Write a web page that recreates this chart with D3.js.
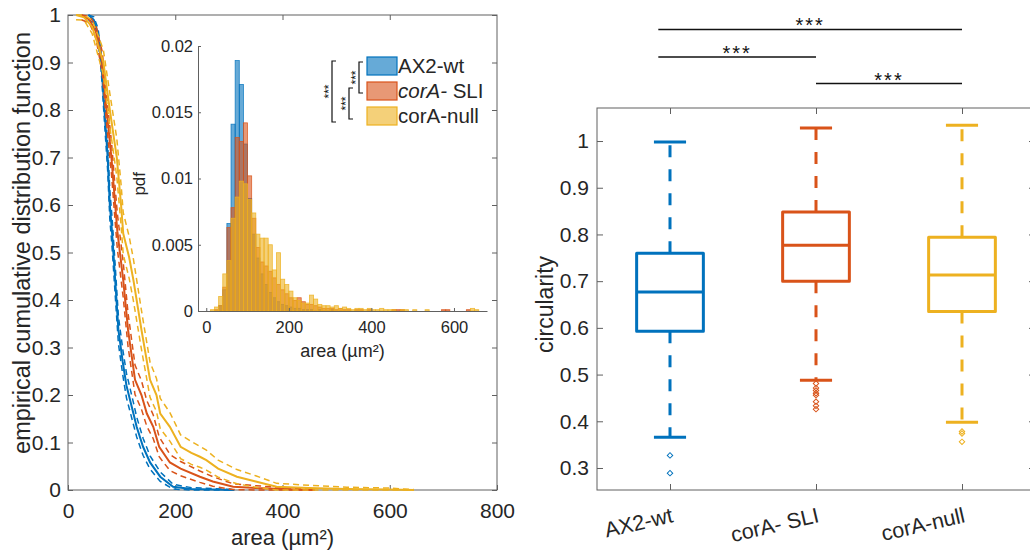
<!DOCTYPE html>
<html>
<head>
<meta charset="utf-8">
<script src="https://cdn.jsdelivr.net/npm/d3@7"></script>
<style>
  body { margin: 0; background: #fff; }
  svg { display: block; }
</style>
</head>
<body>
<svg id="fig" width="1030" height="551"></svg>
<script>
// groups + MATLAB default colours
const groups = ["AX2-wt", "corA- SLI", "corA-null"];
const colors = ["#0072BD", "#D95319", "#EDB120"];

// 1 - ECDF of cell area: area, curve, upper / lower bound
const wtArea = [38, 48, 56, 62, 68, 74, 78, 82, 88, 94, 102, 109, 122, 128, 140, 153, 172, 196, 230, 270, 310];
const wtMid  = [1, 0.99, 0.96, 0.9, 0.8, 0.7, 0.6, 0.545, 0.442, 0.337, 0.27, 0.22, 0.161, 0.133, 0.091, 0.058, 0.028, 0.007, 0.002, 0.001, 0];
const wtHi   = [1, 0.996, 0.972, 0.919, 0.825, 0.728, 0.63, 0.576, 0.473, 0.366, 0.297, 0.246, 0.184, 0.154, 0.109, 0.072, 0.038, 0.012, 0.005, 0.003, 0.001];
const wtLo   = [0.99, 0.984, 0.948, 0.881, 0.775, 0.672, 0.57, 0.514, 0.411, 0.308, 0.243, 0.194, 0.138, 0.112, 0.073, 0.044, 0.018, 0.002, 0, 0, 0];

const sliArea = [25, 40, 52, 64, 72, 81, 88, 92, 103, 112, 125, 137, 147, 159, 170, 190, 210, 246, 270, 308, 350, 400, 460];
const sliMid  = [1, 0.99, 0.965, 0.9, 0.8, 0.7, 0.6, 0.545, 0.442, 0.337, 0.232, 0.2, 0.161, 0.133, 0.091, 0.058, 0.045, 0.028, 0.018, 0.007, 0.004, 0.002, 0];
const sliHi   = [1, 0.997, 0.979, 0.922, 0.83, 0.734, 0.636, 0.582, 0.479, 0.372, 0.263, 0.23, 0.188, 0.158, 0.112, 0.075, 0.06, 0.04, 0.028, 0.013, 0.009, 0.005, 0.001];
const sliLo   = [0.99, 0.983, 0.951, 0.878, 0.77, 0.666, 0.564, 0.508, 0.405, 0.302, 0.201, 0.17, 0.134, 0.108, 0.07, 0.041, 0.03, 0.016, 0.008, 0.001, 0, 0, 0];

const nullArea = [15, 30, 45, 55, 66, 78, 91, 99, 103, 114, 122, 137, 153, 165, 172, 190, 210, 230, 246, 258, 280, 315, 350, 389, 450, 520, 600, 645];
const nullMid  = [1, 0.995, 0.975, 0.94, 0.9, 0.8, 0.7, 0.6, 0.54, 0.49, 0.442, 0.337, 0.232, 0.2, 0.161, 0.133, 0.091, 0.078, 0.07, 0.063, 0.045, 0.028, 0.018, 0.007, 0.004, 0.002, 0.001, 0];
const nullHi   = [1, 1, 0.989, 0.961, 0.926, 0.835, 0.74, 0.643, 0.584, 0.534, 0.486, 0.378, 0.269, 0.235, 0.193, 0.163, 0.116, 0.102, 0.092, 0.084, 0.063, 0.043, 0.03, 0.014, 0.01, 0.006, 0.004, 0.001];
const nullLo   = [0.99, 0.989, 0.961, 0.919, 0.874, 0.765, 0.66, 0.557, 0.496, 0.446, 0.398, 0.296, 0.195, 0.165, 0.129, 0.103, 0.066, 0.054, 0.048, 0.042, 0.027, 0.013, 0.006, 0, 0, 0, 0, 0];

// inset histogram, pdf per 10 µm² bin (bins start at 0, 10, ... 650)
const binWidth = 10;
const wtPdf = [
  0, 0, 0, .0004, .0016, .0066, .0141, .0189, .0171, .0126,
  .0085, .0058, .0040, .0028, .0020, .0014, .0010, .0007, .0005, .0004,
  .0003, .0002, .0002, .0001, .0001, .0001, 0, .0001, 0, 0,
  .0001, 0, 0, 0, 0, 0, 0, 0, 0, 0,
  0, 0, 0, 0, 0, 0, 0, 0, 0, 0,
  0, 0, 0, 0, 0, 0, 0, 0, 0, 0,
  0, 0, 0, 0, 0, 0];
const sliPdf = [
  0, 0, .0001, .0004, .0018, .0063, .0078, .0131, .0128, .0142,
  .0102, .0070, .0048, .0037, .0034, .0030, .0025, .0020, .0016, .0013,
  .0010, .0008, .0010, .0007, .0005, .0005, .0004, .0003, .0002, .0002,
  .0002, .0001, .0002, .0001, .0001, 0, .0001, .0001, 0, .0001,
  0, 0, 0, 0, 0, .0001, .0001, .0001, 0, 0,
  0, 0, 0, 0, 0, 0, 0, .0001, .0001, 0,
  0, 0, 0, .0001, 0, 0];
const nullPdf = [
  0, .0001, .0003, .0011, .0028, .0038, .0070, .0086, .0098, .0096,
  .0084, .0074, .0058, .0055, .0055, .0050, .0031, .0044, .0024, .0020,
  .0015, .0010, .0008, .0006, .0006, .0012, .0009, .0005, .0004, .0004,
  .0003, .0004, .0002, .0003, .0002, .0001, .0002, .0002, .0001, .0002,
  .0001, .0001, .0002, .0001, .0001, .0001, 0, .0001, .0001, 0,
  .0001, 0, 0, .0001, 0, 0, 0, 0, 0, 0,
  0, 0, 0, 0, .0002, .0001];

// circularity box plot
const q1 = [0.593, 0.700, 0.635];
const med = [0.677, 0.777, 0.713];
const q3 = [0.760, 0.848, 0.794];
const whiskLo = [0.366, 0.488, 0.398];
const whiskHi = [0.998, 1.028, 1.034];
const outliers = [
  [0.327, 0.289],
  [0.481, 0.471, 0.466, 0.460, 0.456, 0.442, 0.433, 0.426],
  [0.378, 0.374, 0.356]];
// significance bars: from, to (category units), height (circularity units, above axes)
const sigFrom = [0.92, 0.92, 2.0];
const sigTo = [3, 2, 3];
const sigLevel = [1.239, 1.180, 1.123];

const font = '"Liberation Sans", Arial, Helvetica, sans-serif';
const ink = "#262626";
const frame = "#606060";

const svg = d3.select("#fig");

function tidy(g, size) {
  g.selectAll(".tick line").attr("stroke", frame);
  g.selectAll(".tick text").attr("font-size", size).attr("font-family", font).attr("fill", ink);
}

// ---------------- left panel ----------------
const xA = d3.scaleLinear().domain([0, 800]).range([68, 497]);
const yA = d3.scaleLinear().domain([0, 1]).range([490, 15]);

svg.append("rect")
  .attr("x", xA(0)).attr("y", yA(1))
  .attr("width", xA(800) - xA(0)).attr("height", yA(0) - yA(1))
  .attr("fill", "none").attr("stroke", frame);

svg.append("g").attr("transform", `translate(0,${yA(0)})`)
  .call(d3.axisBottom(xA).tickValues([0, 200, 400, 600, 800]).tickSizeInner(-5).tickSizeOuter(0).tickPadding(13))
  .call(g => g.select(".domain").remove()).call(tidy, 21);
svg.append("g").attr("transform", `translate(0,${yA(1)})`)
  .call(d3.axisTop(xA).tickValues([200, 400, 600]).tickSizeInner(-5).tickSizeOuter(0).tickFormat(""))
  .call(g => g.select(".domain").remove()).call(tidy, 21);
svg.append("g").attr("transform", `translate(${xA(0)},0)`)
  .call(d3.axisLeft(yA).ticks(10).tickFormat(d3.format("~g")).tickSizeInner(-5).tickSizeOuter(0).tickPadding(7))
  .call(g => g.select(".domain").remove()).call(tidy, 21);
svg.append("g").attr("transform", `translate(${xA(800)},0)`)
  .call(d3.axisRight(yA).ticks(10).tickFormat("").tickSizeInner(-5).tickSizeOuter(0))
  .call(g => g.select(".domain").remove()).call(tidy, 21);

svg.append("text")
  .attr("transform", `translate(30,${yA(0.52)}) rotate(-90)`)
  .attr("text-anchor", "middle").attr("font-size", 23.5).attr("font-family", font).attr("fill", ink)
  .text("empirical cumulative distribution function");
svg.append("text")
  .attr("x", xA(400)).attr("y", 545)
  .attr("text-anchor", "middle").attr("font-size", 22).attr("font-family", font).attr("fill", ink)
  .text("area (µm²)");

const curves = [
  [wtArea, wtMid, wtHi, wtLo],
  [sliArea, sliMid, sliHi, sliLo],
  [nullArea, nullMid, nullHi, nullLo]];
const line = d3.line().x(d => xA(d[0])).y(d => yA(d[1]));

curves.forEach(([area, mid, hi, lo], i) => {
  [hi, lo].forEach(b => {
    svg.append("path")
      .attr("d", line(d3.zip(area, b)))
      .attr("fill", "none").attr("stroke", colors[i])
      .attr("stroke-width", 1.5).attr("stroke-dasharray", "6,4");
  });
  svg.append("path")
    .attr("d", line(d3.zip(area, mid)))
    .attr("fill", "none").attr("stroke", colors[i]).attr("stroke-width", 2);
});

// ---------------- inset histogram ----------------
const xI = d3.scaleLinear().domain([-20, 680]).range([198, 487]);
const yI = d3.scaleLinear().domain([0, 0.02]).range([311, 46]);

svg.append("rect")
  .attr("x", xI(-20)).attr("y", yI(0.02))
  .attr("width", xI(680) - xI(-20)).attr("height", yI(0) - yI(0.02))
  .attr("fill", "#fff");

[wtPdf, sliPdf, nullPdf].forEach((pdf, i) => {
  const bins = pdf.map((v, k) => ({x0: k * binWidth, v})).filter(d => d.v > 0);
  svg.append("g").selectAll("rect").data(bins).join("rect")
    .attr("x", d => xI(d.x0))
    .attr("width", d => xI(d.x0 + binWidth) - xI(d.x0))
    .attr("y", d => yI(d.v))
    .attr("height", d => yI(0) - yI(d.v))
    .attr("fill", colors[i]).attr("fill-opacity", 0.6)
    .attr("stroke", colors[i]).attr("stroke-opacity", 0.85).attr("stroke-width", 0.8);
});

svg.append("g").attr("transform", `translate(0,${yI(0)})`)
  .call(d3.axisBottom(xI).tickValues([0, 200, 400, 600]).tickSizeInner(-3).tickSizeOuter(0).tickPadding(10))
  .call(g => g.select(".domain").attr("stroke", frame)).call(tidy, 16.5);
svg.append("g").attr("transform", `translate(${xI(-20)},0)`)
  .call(d3.axisLeft(yI).tickValues([0, 0.005, 0.01, 0.015, 0.02]).tickFormat(d3.format("~g")).tickSizeInner(-3).tickSizeOuter(0).tickPadding(5))
  .call(g => g.select(".domain").attr("stroke", frame)).call(tidy, 16.5);

svg.append("text")
  .attr("x", xI(330)).attr("y", 357)
  .attr("text-anchor", "middle").attr("font-size", 18).attr("font-family", font).attr("fill", ink)
  .text("area (µm²)");
svg.append("text")
  .attr("transform", `translate(145,${yI(0.0096)}) rotate(-90)`)
  .attr("text-anchor", "middle").attr("font-size", 17).attr("font-family", font).attr("fill", ink)
  .text("pdf");

// legend
const leg = svg.append("g").attr("transform", "translate(367,57)");
groups.forEach((name, i) => {
  leg.append("rect")
    .attr("x", 0).attr("y", i * 25).attr("width", 30).attr("height", 18)
    .attr("fill", colors[i]).attr("fill-opacity", 0.6)
    .attr("stroke", colors[i]).attr("stroke-width", 1.2);
  const t = leg.append("text")
    .attr("x", 31).attr("y", i * 25 + 16)
    .attr("font-size", 20.5).attr("font-family", font).attr("fill", ink);
  if (i === 1) {
    t.append("tspan").attr("font-style", "italic").text("corA-");
    t.append("tspan").text(" SLI");
  } else {
    t.text(name);
  }
});

// brackets beside legend
const brackets = [
  {x: 332, y0: 61, y1: 122, sx: 326},
  {x: 359, y0: 62, y1: 93, sx: 353},
  {x: 349, y0: 88, y1: 119, sx: 343}];
brackets.forEach(b => {
  svg.append("path")
    .attr("d", `M${b.x + 4},${b.y0}H${b.x}V${b.y1}H${b.x + 4}`)
    .attr("fill", "none").attr("stroke", "#111").attr("stroke-width", 1.2);
  svg.append("text")
    .attr("transform", `translate(${b.sx},${(b.y0 + b.y1) / 2}) rotate(-90)`)
    .attr("text-anchor", "middle").attr("dy", "0.55em")
    .attr("font-size", 12).attr("font-family", font).attr("fill", "#111")
    .text("***");
});

// ---------------- right panel: circularity ----------------
const xB = d3.scaleLinear().domain([0.5, 3.5]).range([597, 1035]);
const yB = d3.scaleLinear().domain([0.2529, 1.0707]).range([490, 108]);

svg.append("rect")
  .attr("x", xB(0.5)).attr("y", yB(1.0707))
  .attr("width", xB(3.5) - xB(0.5)).attr("height", yB(0.2529) - yB(1.0707))
  .attr("fill", "none").attr("stroke", frame);

svg.append("g").attr("transform", `translate(${xB(0.5)},0)`)
  .call(d3.axisLeft(yB).tickValues([0.3, 0.4, 0.5, 0.6, 0.7, 0.8, 0.9, 1]).tickFormat(d3.format("~g")).tickSizeInner(-6).tickSizeOuter(0).tickPadding(8))
  .call(g => g.select(".domain").remove()).call(tidy, 21);
svg.append("g").attr("transform", `translate(${xB(3.5)},0)`)
  .call(d3.axisRight(yB).tickValues([0.3, 0.4, 0.5, 0.6, 0.7, 0.8, 0.9, 1]).tickFormat("").tickSizeInner(-6).tickSizeOuter(0))
  .call(g => g.select(".domain").remove()).call(tidy, 21);
svg.append("g").attr("transform", `translate(0,${yB(0.2529)})`)
  .call(d3.axisBottom(xB).tickValues([1, 2, 3]).tickFormat("").tickSizeInner(-6).tickSizeOuter(0))
  .call(g => g.select(".domain").remove()).call(tidy, 21);
svg.append("g").attr("transform", `translate(0,${yB(1.0707)})`)
  .call(d3.axisTop(xB).tickValues([1, 2, 3]).tickFormat("").tickSizeInner(-6).tickSizeOuter(0))
  .call(g => g.select(".domain").remove()).call(tidy, 21);

groups.forEach((name, i) => {
  svg.append("text")
    .attr("transform", `translate(${xB(i + 1) + 4},522) rotate(-13)`)
    .attr("text-anchor", "end").attr("font-size", 21.5).attr("font-family", font).attr("fill", ink)
    .text(name);
});

svg.append("text")
  .attr("transform", `translate(553,${yB(0.65)}) rotate(-90)`)
  .attr("text-anchor", "middle").attr("font-size", 23).attr("font-family", font).attr("fill", ink)
  .text("circularity");

const boxW = 0.457, capW = 0.22;
groups.forEach((name, i) => {
  const c = i + 1, col = colors[i];
  const g = svg.append("g").attr("stroke", col).attr("fill", "none").attr("stroke-width", 3);
  // whiskers
  g.append("line").attr("x1", xB(c)).attr("x2", xB(c)).attr("y1", yB(q3[i])).attr("y2", yB(whiskHi[i]))
    .attr("stroke-dasharray", "12,12");
  g.append("line").attr("x1", xB(c)).attr("x2", xB(c)).attr("y1", yB(q1[i])).attr("y2", yB(whiskLo[i]))
    .attr("stroke-dasharray", "12,12");
  // caps
  [whiskHi[i], whiskLo[i]].forEach(v => {
    g.append("line").attr("x1", xB(c - capW / 2)).attr("x2", xB(c + capW / 2))
      .attr("y1", yB(v)).attr("y2", yB(v));
  });
  // box + median
  g.append("rect")
    .attr("x", xB(c - boxW / 2)).attr("width", xB(c + boxW / 2) - xB(c - boxW / 2))
    .attr("y", yB(q3[i])).attr("height", yB(q1[i]) - yB(q3[i]))
    .attr("stroke-linejoin", "round");
  g.append("line").attr("x1", xB(c - boxW / 2)).attr("x2", xB(c + boxW / 2))
    .attr("y1", yB(med[i])).attr("y2", yB(med[i]));
  // outliers
  g.selectAll("path.out").data(outliers[i]).join("path")
    .attr("class", "out")
    .attr("d", d3.symbol(d3.symbolSquare, 15)())
    .attr("transform", d => `translate(${xB(c)},${yB(d)}) rotate(45)`)
    .attr("stroke-width", 1);
});

// significance bars
sigFrom.forEach((f, k) => {
  svg.append("line")
    .attr("x1", xB(f)).attr("x2", xB(sigTo[k]))
    .attr("y1", yB(sigLevel[k])).attr("y2", yB(sigLevel[k]))
    .attr("stroke", "#111").attr("stroke-width", 1.5);
  svg.append("text")
    .attr("x", (xB(f) + xB(sigTo[k])) / 2).attr("y", yB(sigLevel[k]) + 3)
    .attr("text-anchor", "middle").attr("font-size", 20).attr("letter-spacing", 2)
    .attr("font-family", font).attr("fill", "#111")
    .text("***");
});
</script>
</body>
</html>
